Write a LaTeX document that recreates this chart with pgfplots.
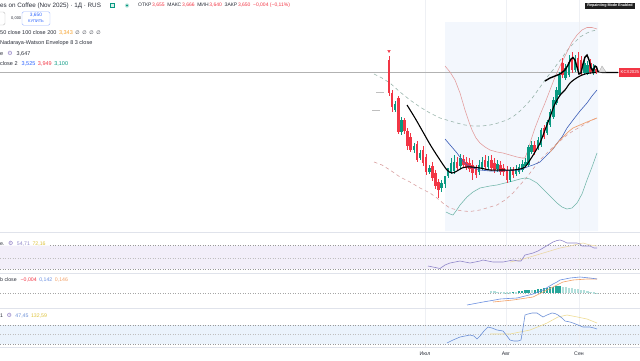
\documentclass[border=0pt]{standalone}
\usepackage{fontspec}
\setmainfont{Liberation Sans}
\newfontfamily\dv{DejaVu Sans}
\usepackage{pgfplots}
\usepackage{pgfplotstable}
\pgfplotsset{compat=1.18}
\definecolor{cRed}{HTML}{F23645}
\definecolor{cGreen}{HTML}{089981}
\definecolor{cText}{HTML}{2A2E39}
\definecolor{cBlue}{HTML}{2962FF}
\definecolor{cOrange}{HTML}{F5A02A}
\definecolor{cPurple}{HTML}{8E7CC3}
\definecolor{cYellow}{HTML}{DDC23A}
\definecolor{cTint}{HTML}{F3F7FD}
\definecolor{cGrid}{HTML}{EEF0F4}
\definecolor{cSep}{HTML}{E0E3EB}
\definecolor{cUp}{HTML}{E39A9A}
\definecolor{cLo}{HTML}{6FB5A8}
\definecolor{cBB}{HTML}{3D5FB8}
\definecolor{cMA}{HTML}{F0A070}
\definecolor{cEnvU}{HTML}{98B4AB}
\definecolor{cEnvL}{HTML}{D9A0A0}
\definecolor{cRSI}{HTML}{8F86C9}
\definecolor{cRSIma}{HTML}{EAD7A6}
\definecolor{cRSIband}{HTML}{F2EEF9}
\definecolor{cCCIband}{HTML}{EBF3FC}
\definecolor{cMacd}{HTML}{6A8FE0}
\definecolor{cSig}{HTML}{F2A066}
\definecolor{cHl}{HTML}{B2DFDB}
\definecolor{cHd}{HTML}{26A69A}
\definecolor{cCCI}{HTML}{6B8FD6}
\definecolor{cCCIs}{HTML}{EEDC94}
\newcommand\fs[1]{\fontsize{#1pt}{#1pt}\selectfont}
\newcommand\gap{\hspace{2.6pt}}
\tikzset{lab/.style={anchor=west, inner sep=0pt, text=cText}}

% candles: index, open, high, low, close (screen units, y grows downward)
\pgfplotstableread{
i o h l c
0 60 56 96 93
1 93 90 112 107
2 110 101 112 104
3 98 96 134 132
4 132 117 135 120
5 120 118 134 131
6 131 128 150 146
7 137 133 152 150
8 150 143 153 146
9 144 141 162 160
10 158 150 160 153
11 150 146 166 163
12 157 154 175 172
13 172 165 174 168
14 166 162 181 178
15 173 170 189 186
16 182 179 198 190
17 188 180 192 183
18 184 178 188 176
19 176 170 178 168
20 172 158 174 163
21 171 155 174 162
22 162 157 171 168
23 166 154 169 158
24 159 155 168 165
25 162 157 170 167
26 163 158 172 169
27 165 160 180 173
28 168 165 178 175
29 172 160 175 165
30 168 157 170 162
31 160 155 170 167
32 167 156 170 161
33 160 155 171 168
34 163 158 173 170
35 169 160 172 164
36 165 161 175 172
37 168 164 176 172
38 170 166 183 180
39 180 167 182 170
40 170 167 178 175
41 174 165 176 169
42 172 164 174 167
43 170 160 172 164
44 166 158 168 162
45 165 145 167 147
46 152 141 154 145
47 145 141 155 152
48 148 137 150 140
49 145 128 147 130
50 128 125 139 137
51 133 120 135 122
52 125 109 127 112
53 117 97 119 100
54 103 87 105 90
55 95 72 97 75
56 63 58 78 75
57 78 64 80 68
58 75 55 77 62
59 58 52 73 70
60 70 55 72 60
61 58 52 70 67
62 60 56 75 72
63 73 60 75 63
64 73 61 75 65
65 63 59 74 72
66 73 64 75 68
67 69 66 74 72
}\candles

\pgfplotstableread{
x t
491.3 291
494.4 291
497.5 291.5
500.6 291.5
503.7 292
506.8 292
509.9 292
516.1 292
531.6 290
562.6 286.5
565.7 287
568.8 287.5
571.9 288
575.0 288.5
578.1 289
581.2 289.5
584.3 290
587.4 290.5
590.5 291.5
593.6 292
596.7 292.5
}\histlight

\pgfplotstableread{
x t
513.0 291.5
519.2 291
522.3 290.5
525.4 290
528.5 289.5
534.7 289.5
537.8 289
540.9 288.5
544.0 288
547.1 287.5
550.2 287
553.3 286.5
556.4 286
559.5 286
}\histdark

\begin{document}
\begin{tikzpicture}
\begin{axis}[at={(0,0)}, anchor=south west, width=640pt, height=360pt, scale only axis,
  xmin=0, xmax=640, ymin=0, ymax=360, y dir=reverse, hide axis, clip=true]

% background tint and bands
\addplot[draw=none, fill=cTint, forget plot] coordinates {(445,22)(598,22)(598,231)(445,231)(445,22)};
\addplot[draw=none, fill=cRSIband, forget plot] coordinates {(0,245.7)(640,245.7)(640,269)(0,269)(0,245.7)};
\addplot[draw=none, fill=cCCIband, forget plot] coordinates {(0,325)(640,325)(640,344)(0,344)(0,325)};

% grid
\addplot[cGrid, line width=0.6pt] coordinates {(425,0)(425,347)};
\addplot[cGrid, line width=0.6pt] coordinates {(506,0)(506,347)};
\addplot[cGrid, line width=0.6pt] coordinates {(579,0)(579,347)};

% separators
\addplot[cSep, line width=0.8pt] coordinates {(0,232.5)(640,232.5)};
\addplot[cSep, line width=0.8pt] coordinates {(0,273)(640,273)};
\addplot[cSep, line width=0.8pt] coordinates {(0,308)(640,308)};
\addplot[cSep, line width=0.8pt] coordinates {(0,347)(640,347)};

% price line
\addplot[black!30, line width=0.5pt] coordinates {(0,72.5)(619,72.5)};

% envelope dashed lines
\addplot[cEnvU, line width=0.6pt, dash pattern=on 3.5pt off 3pt] coordinates {(374,74)(382,78)(390,83)(400,92)(410,100)(420,107)(430,113)(440,118)(450,121)(457,123)(465,125)(473,126)(482,126)(490,125)(498,123)(507,120)(514,116)(520,111)(527,104)(533,97)(538,90)(543,83)(548,76)(553,70)(558,63)(562,58)(566,52)(570,47)(575,42)(580,37)(587,33)(592,31)(597,30)};
\addplot[cEnvL, line width=0.6pt, dash pattern=on 3.5pt off 3pt] coordinates {(374,162)(382,165)(390,170)(400,177)(410,182)(420,188)(430,193)(437,198)(444,204)(450,208)(457,210)(463,211)(470,211.5)(480,210)(490,207)(497,205)(505,200)(513,193)(520,185)(527,177)(533,169)(540,160)(547,153)(553,147)(560,141)(567,135)(573,131)(580,127)(587,123)(592,120)(597,118)};
\addplot[black!25, line width=0.5pt] coordinates {(376,92)(384,92)};
\addplot[black!25, line width=0.5pt] coordinates {(372,110)(380,110)};

% Bollinger bands
\addplot[cUp, line width=0.55pt] coordinates {(445,66)(450,72)(455,80)(460,93)(465,110)(469,122)(472,130)(476,138)(480,143)(485,147)(490,150)(497,152)(503,153)(510,155)(517,157)(522,158)(525,158)(528,150)(531,140)(535,128)(540,115)(545,103)(550,90)(555,77)(560,66)(564,58)(568,50)(572,42)(577,35)(582,30)(587,27.5)(592,27.5)(597,29)};
\addplot[cLo, line width=0.55pt] coordinates {(446,212)(450,214)(453,215)(456,211)(460,205)(467,197)(473,192)(480,188)(490,186)(497,185)(505,183)(513,181)(520,179)(525,178)(530,179)(537,183)(542,188)(547,193)(552,198)(557,203)(562,207)(567,209)(572,208)(577,203)(582,194)(587,180)(592,167)(597,153)};

% candles
\addplot[draw=none, mark=none, forget plot, restrict expr to domain={\thisrow{c}-\thisrow{o}}{0:1000},
  error bars/.cd, y dir=both, y explicit, error mark=none, error bar style={draw=cRed, line width=0.55pt}]
  table[x expr=389+3.1*\thisrow{i}, y expr=(\thisrow{h}+\thisrow{l})/2, y error expr=(\thisrow{l}-\thisrow{h})/2] {\candles};
\addplot[draw=none, mark=none, forget plot, restrict expr to domain={\thisrow{c}-\thisrow{o}}{0:1000},
  error bars/.cd, y dir=both, y explicit, error mark=none, error bar style={draw=cRed, line width=2.5pt}]
  table[x expr=389+3.1*\thisrow{i}, y expr=(\thisrow{o}+\thisrow{c})/2, y error expr={abs(\thisrow{c}-\thisrow{o})/2}] {\candles};
\addplot[draw=none, mark=none, forget plot, restrict expr to domain={\thisrow{o}-\thisrow{c}}{0:1000},
  error bars/.cd, y dir=both, y explicit, error mark=none, error bar style={draw=cGreen, line width=0.55pt}]
  table[x expr=389+3.1*\thisrow{i}, y expr=(\thisrow{h}+\thisrow{l})/2, y error expr=(\thisrow{l}-\thisrow{h})/2] {\candles};
\addplot[draw=none, mark=none, forget plot, restrict expr to domain={\thisrow{o}-\thisrow{c}}{0:1000},
  error bars/.cd, y dir=both, y explicit, error mark=none, error bar style={draw=cGreen, line width=2.5pt}]
  table[x expr=389+3.1*\thisrow{i}, y expr=(\thisrow{o}+\thisrow{c})/2, y error expr={abs(\thisrow{c}-\thisrow{o})/2}] {\candles};

\addplot[only marks, mark=triangle*, mark size=1.5pt, mark options={rotate=180, fill=cRed, draw=cRed}] coordinates {(389,51)};

% moving averages
\addplot[cBB, line width=0.6pt] coordinates {(445,139)(451,146)(457,153)(462,160)(467,165)(473,168)(480,170)(490,171)(500,171)(510,170.5)(520,170)(527,167)(533,165)(540,162)(547,155)(553,149)(558,142)(562,137)(567,128)(573,120)(580,111)(587,103)(592,96)(597,90)};
\addplot[cMA, line width=0.7pt] coordinates {(550,152)(555,146)(560,140)(563,137)(568,132)(573,128)(580,125)(587,122)(592,120)(597,118)};

% black drawings
\addplot[black, line width=1.1pt, smooth] coordinates {(407,105)(415,118)(423,132)(431,146)(440,160)(447,170)(452,173)(457,171)(462,168)(467,167)(472,167)(480,168)(490,170)(500,170)(513,170)(520,169)(525,167)(530,160)(535,152)(540,143)(545,130)(550,117)(554,106)(557,100)(561,94)(565,90)(570,83)(575,79)(580,76)(585,74)(590,73)(596,72.5)};
\addplot[black, line width=1.4pt] coordinates {(545,81)(550,78)(555,76)(560,74)(565,70)(568,65)(571,59)(573,57.5)(575,60)(577,67)(579,74)(581,73)(583,64)(585,57)(587,55)(589,60)(591,68)(593,71)(595,66)(596.5,67)(598,71.5)(603,72.5)(618,72.5)};
\addplot[draw=black!35, fill=black!12, line width=0.3pt] coordinates {(599,72)(602,66)(606,72)(599,72)};

% RSI panel
\addplot[black!40, line width=0.5pt, dash pattern=on 1pt off 1.5pt] coordinates {(50,245.7)(640,245.7)};
\addplot[black!25, line width=0.4pt, dash pattern=on 1pt off 1.5pt] coordinates {(0,257.7)(640,257.7)};
\addplot[black!40, line width=0.5pt, dash pattern=on 1pt off 1.5pt] coordinates {(0,269)(640,269)};
\addplot[cRSIma, line width=0.6pt] coordinates {(510,262)(520,260)(530,257)(540,254)(550,251)(560,248)(570,246)(578,244)(583,243)(590,245)(597,246)};
\addplot[cRSI, line width=0.6pt] coordinates {(428,266)(433,267)(440,268.5)(445,265)(450,263)(455,262)(460,261)(465,262)(470,263)(475,262)(480,261)(483,260)(488,261)(493,262)(498,262)(503,262)(508,261)(513,260)(518,261)(521,261)(525,255)(529,254)(533,253)(538,251)(543,248)(548,245)(553,242)(557,240.5)(560,240)(563,241)(567,243)(572,243)(577,243)(580,244)(582,246)(586,246)(590,246)(594,248)(597,248)};

% MACD panel
\addplot[black!35, line width=0.4pt, dash pattern=on 1pt off 1.5pt] coordinates {(0,293)(640,293)};
\addplot[draw=none, mark=none, forget plot,
  error bars/.cd, y dir=both, y explicit, error mark=none, error bar style={draw=cHl, line width=2.2pt}]
  table[x=x, y expr=(293+\thisrow{t})/2, y error expr=(293-\thisrow{t})/2] {\histlight};
\addplot[draw=none, mark=none, forget plot,
  error bars/.cd, y dir=both, y explicit, error mark=none, error bar style={draw=cHd, line width=2.2pt}]
  table[x=x, y expr=(293+\thisrow{t})/2, y error expr=(293-\thisrow{t})/2] {\histdark};
\addplot[cSig, line width=0.6pt] coordinates {(493,302)(503,301)(513,300)(523,298.5)(533,297)(543,292)(553,287)(563,282)(573,280)(580,279.5)(587,279)(597,279)};
\addplot[cMacd, line width=0.6pt] coordinates {(467,305)(475,303.5)(483,302)(492,300.5)(500,299)(508,298.5)(517,298)(525,296)(533,294)(538,292)(543,290)(548,287)(553,284)(557,282)(560,280)(565,279)(570,278)(575,277.5)(580,277)(585,277.5)(590,278)(597,279)};

% CCI panel
\addplot[black!40, line width=0.5pt, dash pattern=on 1pt off 1.5pt] coordinates {(0,325)(640,325)};
\addplot[black!25, line width=0.4pt, dash pattern=on 1pt off 1.5pt] coordinates {(0,334.5)(640,334.5)};
\addplot[black!40, line width=0.5pt, dash pattern=on 1pt off 1.5pt] coordinates {(0,344)(640,344)};
\addplot[cCCIs, line width=0.6pt] coordinates {(490,334)(500,334)(510,334)(520,332)(530,330)(540,326)(547,323)(558,317)(567,315)(575,316.5)(587,319)(597,323)};
\addplot[cCCI, line width=0.6pt] coordinates {(447,343)(453,340)(460,337)(465,336)(470,335)(474,336)(477,339)(480,336)(484,331)(488,327)(492,328)(497,330)(503,331)(507,336)(510,340)(514,341)(518,341)(521,340)(523,328)(525,315)(528,314)(532,313)(537,313)(540,315)(543,317)(547,315)(552,313)(555,313.5)(558,315)(562,318)(565,321)(570,322)(573,323)(578,325)(583,327)(587,327)(590,327)(594,328)(597,329)};

% ---- texts ----
\node[lab, font=\fs{6.3}] at (axis cs:0,5.5) {es on Coffee (Nov 2025) · 1Д · RUS};
\node[draw=cGreen, fill=cGreen!15, inner sep=0pt, minimum width=4pt, minimum height=4pt] at (axis cs:112,5.5) {};
\node[circle, fill=cGreen!25, inner sep=0pt, minimum size=4.5pt] at (axis cs:127,5.5) {};
\node[circle, fill=cGreen, inner sep=0pt, minimum size=2.2pt] at (axis cs:127,5.5) {};
\node[lab, font=\fs{5}] at (axis cs:138,5.5) {ОТКР\,\textcolor{cRed}{3,655}\gap МАКС\,\textcolor{cRed}{3,666}\gap МИН\,\textcolor{cRed}{3,640}\gap ЗАКР\,\textcolor{cRed}{3,650}\gap\textcolor{cRed}{−0,004 (−0,11\%)}};

\node[draw=black!25, rounded corners=1.5pt, minimum width=9pt, minimum height=13pt, inner sep=0pt] at (axis cs:0.5,18.5) {};
\node[lab, font=\fs{4}] at (axis cs:11,18.5) {0,000};
\node[draw=cBlue!45, rounded corners=1.5pt, minimum width=28pt, minimum height=13.5pt, inner sep=0pt, fill=white] at (axis cs:36,18.5) {};
\node[font=\fs{4.8}, text=cBlue, inner sep=0pt] at (axis cs:36,15.3) {3,650};
\node[font=\fs{4}, text=cBlue, inner sep=0pt] at (axis cs:36,21.6) {КУПИТЬ};

\node[lab, font=\fs{5.5}] at (axis cs:0,33) {50 close 100 close 200\gap\textcolor{cOrange}{3,343}\gap{\dv\fs{5}∅\gap∅\gap∅\gap∅}};
\node[lab, font=\fs{5.5}] at (axis cs:0,43.5) {Nadaraya-Watson Envelope 8 3 close};
\node[lab, font=\fs{5.5}] at (axis cs:0,53.5) {e\hspace{4pt}\textcolor{cPurple}{\dv\fs{6}⚙}\hspace{4pt}3,647};
\node[lab, font=\fs{5.5}] at (axis cs:0,64) {close 2\hspace{4pt}\textcolor{cBlue}{3,525}\gap\textcolor{cRed}{3,949}\gap\textcolor{cGreen}{3,100}};

\node[fill=black!88, text=white, font=\fs{3.7}\bfseries, inner xsep=2pt, inner ysep=1.6pt] at (axis cs:610,6) {Repainting Mode Enabled};
\node[fill=cRed, text=white, font=\fs{4.3}, anchor=west, inner xsep=1.5pt, minimum height=8.5pt] at (axis cs:619,72.5) {KCX2025};

\node[lab, font=\fs{5.2}] at (axis cs:0,244) {e.\hspace{3.5pt}\textcolor{cPurple}{\dv\fs{6}⚙}\hspace{3.5pt}\textcolor{cRSI}{54,71}\gap\textcolor{cYellow}{72,16}};
\node[lab, font=\fs{5.2}] at (axis cs:0,280) {b close\hspace{4pt}\textcolor{cRed}{−0,004}\gap\textcolor{cMacd}{0,142}\gap\textcolor{cSig}{0,146}};
\node[lab, font=\fs{5.2}] at (axis cs:0,316) {1\hspace{3.5pt}\textcolor{cPurple}{\dv\fs{6}⚙}\hspace{3.5pt}\textcolor{cCCI}{47,45}\gap\textcolor{cYellow}{132,59}};

\node[font=\fs{5.2}, text=cText, inner sep=0pt] at (axis cs:425,353.5) {Июл};
\node[font=\fs{5.2}, text=cText, inner sep=0pt] at (axis cs:506,353.5) {Авг};
\node[font=\fs{5.2}, text=cText, inner sep=0pt] at (axis cs:579,353.5) {Сен};
\end{axis}
\pgfresetboundingbox
\useasboundingbox (0,0) rectangle (640pt,360pt);
\end{tikzpicture}
\end{document}
